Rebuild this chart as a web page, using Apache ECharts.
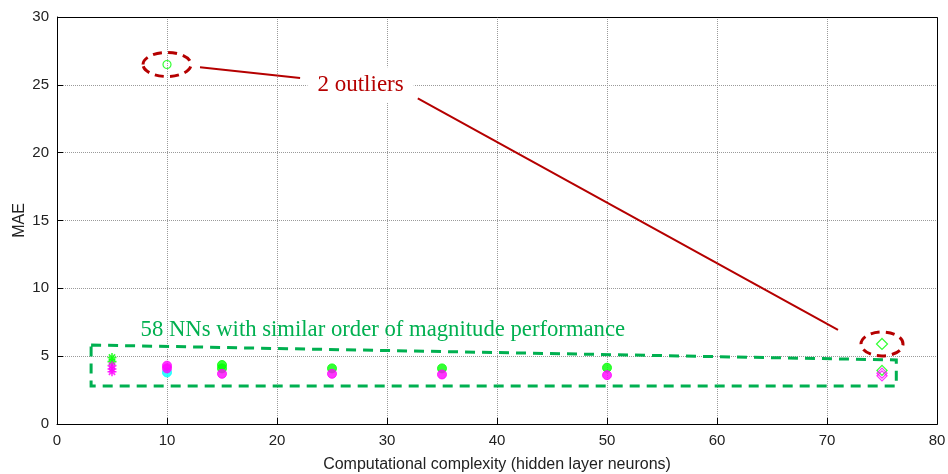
<!DOCTYPE html>
<html>
<head>
<meta charset="utf-8">
<script src="https://cdn.jsdelivr.net/npm/echarts@6/dist/echarts.min.js"></script>
<style>
  html, body { margin: 0; padding: 0; background: #fff; }
  #chart { width: 948px; height: 474px; }
</style>
</head>
<body>
<div id="chart"></div>
<script>
// MAE of each trained network against its hidden-layer size
const greenStars = [[5, 4.9], [5, 4.6]];
const magentaStars = [[5, 4.3], [5, 4.05], [5, 3.85]];
const greenCircles = [[15, 4.35], [15, 4.1], [25, 4.1], [35, 4.1], [50, 4.15]];
const magentaCircles = [[10, 4.3], [10, 4.1], [15, 3.7], [25, 3.7], [35, 3.65], [50, 3.6]];
const cyanCircles = [[10, 3.8]];
const greenDiamonds = [[75, 3.95]];
const magentaDiamonds = [[75, 3.75], [75, 3.55]];
const outlierCircle = [[10, 26.5]];
const outlierDiamond = [[75, 5.9]];

const xTicks = [0, 10, 20, 30, 40, 50, 60, 70, 80];
const yTicks = [0, 5, 10, 15, 20, 25, 30];

const xAxisTitle = 'Computational complexity (hidden layer neurons)';
const yAxisTitle = 'MAE';
const outlierNote = '2 outliers';
const groupNote = '58 NNs with similar order of magnitude performance';

// Annotation anchors in data coordinates
const outlierNoteAt = [27.6, 25.0];
const leaderA = [[13.0, 26.3], [22.1, 25.5]];
const leaderB = [[32.8, 24.0], [71.0, 6.93]];
const groupNoteAt = [7.6, 6.9];
const groupBox = [[3.1, 5.82], [76.3, 4.72], [76.3, 2.8], [3.1, 2.8]];

const GREEN = '#00ff00', MAGENTA = '#ff00ff', CYAN = '#00ffff';
const DARKRED = '#b50000', NOTEGREEN = '#00b050';

const asterisk = 'path://M0,-10L0,10M-10,0L10,0M-7,-7L7,7M-7,7L7,-7';

function openSeries(data, symbol, color, size, width) {
  return {
    type: 'scatter', data, symbol, symbolSize: size,
    itemStyle: { color: 'transparent', borderColor: color, borderWidth: width || 1 },
    emphasis: { disabled: true }
  };
}
function filledSeries(data, color, size) {
  return {
    type: 'scatter', data, symbol: 'circle', symbolSize: size,
    itemStyle: { color: color, borderColor: color, borderWidth: 1 },
    emphasis: { disabled: true }
  };
}

const axisFont = { fontFamily: 'Liberation Sans, Arial, sans-serif', fontSize: 15, color: '#222' };

const chart = echarts.init(document.getElementById('chart'), null, { renderer: 'canvas' });
chart.setOption({
  animation: false,
  grid: { left: 57, right: 11, top: 17, bottom: 50, containLabel: false, outerBoundsMode: 'none' },
  xAxis: {
    type: 'value', min: xTicks[0], max: xTicks[xTicks.length - 1], interval: 10,
    name: xAxisTitle, nameLocation: 'middle', nameGap: 33,
    nameTextStyle: Object.assign({}, axisFont, { fontSize: 16 }),
    axisLine: { show: true, lineStyle: { color: '#000', width: 1 } },
    axisTick: { show: true, inside: true, length: 6, lineStyle: { color: '#000' } },
    axisLabel: Object.assign({}, axisFont, { margin: 9 }),
    splitLine: { show: true, lineStyle: { color: '#9a9a9a', type: [1, 1], width: 1 } }
  },
  yAxis: {
    type: 'value', min: yTicks[0], max: yTicks[yTicks.length - 1], interval: 5,
    name: yAxisTitle, nameLocation: 'middle', nameGap: 29, nameRotate: 90, nameMoveOverlap: false,
    nameTextStyle: Object.assign({}, axisFont, { fontSize: 16 }),
    axisLine: { show: true, lineStyle: { color: '#000', width: 1 } },
    axisTick: { show: true, inside: true, length: 6, lineStyle: { color: '#000' } },
    axisLabel: Object.assign({}, axisFont, { margin: 8 }),
    splitLine: { show: true, lineStyle: { color: '#9a9a9a', type: [1, 1], width: 1 } }
  },
  series: [
    openSeries(greenStars, asterisk, GREEN, 9, 1.6),
    openSeries(magentaStars, asterisk, MAGENTA, 9, 1.6),
    filledSeries(cyanCircles, CYAN, 9),
    filledSeries(greenCircles, GREEN, 9),
    filledSeries(magentaCircles, MAGENTA, 9),
    openSeries(greenDiamonds, 'diamond', GREEN, 10, 1.3),
    openSeries(magentaDiamonds, 'diamond', MAGENTA, 10, 1.3),
    openSeries(outlierCircle, 'circle', GREEN, 8, 1.2),
    openSeries(outlierDiamond, 'diamond', GREEN, 11, 1.2)
  ]
});

// Annotations: dashed callouts, leader lines and notes
function px(p) { return chart.convertToPixel({ gridIndex: 0 }, p); }
const c1 = px(outlierCircle[0]);
const c2 = px(outlierDiamond[0]);
const redDash = { stroke: DARKRED, lineWidth: 3, lineDash: [9, 6], fill: null };
const greenDash = { stroke: NOTEGREEN, lineWidth: 3, lineDash: [10, 7], fill: null };
const la = leaderA.map(px), lb = leaderB.map(px);
const tn = px(outlierNoteAt), gn = px(groupNoteAt);
const g0 = px([xTicks[0], yTicks[yTicks.length - 1]]);
const g1 = px([xTicks[xTicks.length - 1], yTicks[0]]);

chart.setOption({
  graphic: [
    // frame round the plot area
    { type: 'rect', silent: true,
      shape: { x: Math.round(g0[0]) + 0.5, y: Math.round(g0[1]) + 0.5,
               width: Math.round(g1[0] - g0[0]), height: Math.round(g1[1] - g0[1]) },
      style: { fill: null, stroke: '#000', lineWidth: 1 } },
    { type: 'ellipse', silent: true, shape: { cx: c1[0], cy: c1[1], rx: 24, ry: 12 }, style: redDash },
    { type: 'ellipse', silent: true, shape: { cx: c2[0], cy: c2[1], rx: 21, ry: 12 }, style: redDash },
    { type: 'line', silent: true, shape: { x1: la[0][0], y1: la[0][1], x2: la[1][0], y2: la[1][1] },
      style: { stroke: DARKRED, lineWidth: 2 } },
    { type: 'line', silent: true, shape: { x1: lb[0][0], y1: lb[0][1], x2: lb[1][0], y2: lb[1][1] },
      style: { stroke: DARKRED, lineWidth: 2 } },
    { type: 'text', silent: true, x: tn[0], y: tn[1],
      style: { text: outlierNote, fill: DARKRED, font: '23px "Liberation Serif", "DejaVu Serif", serif',
        align: 'center', verticalAlign: 'middle', backgroundColor: '#fff', padding: [6, 10] } },
    { type: 'polygon', silent: true, shape: { points: groupBox.map(px) }, style: greenDash },
    { type: 'text', silent: true, x: gn[0], y: gn[1],
      style: { text: groupNote, fill: NOTEGREEN, font: '22.7px "Liberation Serif", "DejaVu Serif", serif',
        align: 'left', verticalAlign: 'middle' } }
  ]
});
</script>
</body>
</html>
